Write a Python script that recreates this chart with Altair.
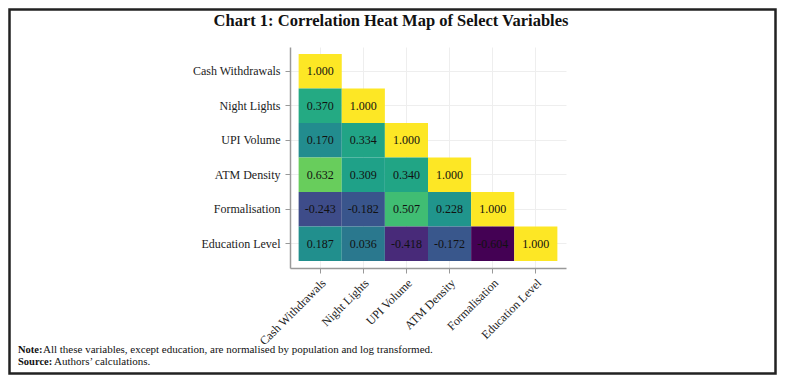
import altair as alt
import pandas as pd

variables = ["Cash Withdrawals", "Night Lights", "UPI Volume", "ATM Density", "Formalisation", "Education Level"]
corr_rows = [
    [1.000],
    [0.370, 1.000],
    [0.170, 0.334, 1.000],
    [0.632, 0.309, 0.340, 1.000],
    [-0.243, -0.182, 0.507, 0.228, 1.000],
    [0.187, 0.036, -0.418, -0.172, -0.604, 1.000],
]
title_text = "Chart 1: Correlation Heat Map of Select Variables"
note_label = "Note:"
note_text = "All these variables, except education, are normalised by population and log transformed."
source_label = "Source:"
source_text = "Authors\u2019 calculations."

records = []
for i, row in enumerate(corr_rows):
    for j, v in enumerate(row):
        records.append({"row": variables[i], "col": variables[j], "value": v})
df = pd.DataFrame(records)
df["label"] = df["value"].map(lambda v: f"{v:.3f}")

FONT = "Liberation Serif"
PL, PT = 282, 39
W, H = 276, 221
TOTW, TOTH = 769, 367

xs = alt.X("col:N", sort=variables, title=None,
           scale=alt.Scale(paddingInner=0, paddingOuter=0.2),
           axis=alt.Axis(labelAngle=-45, labelAlign="right", labelBaseline="top",
                         labelFont=FONT, labelFontSize=12, labelColor="#222",
                         domainColor="#999", domainWidth=1.5, tickColor="#999",
                         tickSize=5, labelPadding=4, bandPosition=0.5, zindex=0,
                         grid=True, gridColor="#eeeeee", gridWidth=1))
ys = alt.Y("row:N", sort=variables, title=None,
           scale=alt.Scale(paddingInner=0, paddingOuter=0.2),
           axis=alt.Axis(labelFont=FONT, labelFontSize=12, labelColor="#222",
                         domainColor="#999", domainWidth=1.5, tickColor="#999",
                         tickSize=5, labelPadding=5, bandPosition=0.5, zindex=0,
                         grid=True, gridColor="#eeeeee", gridWidth=1))

base = alt.Chart(df)
cells = base.mark_rect().encode(
    x=xs, y=ys,
    color=alt.Color("value:Q", scale=alt.Scale(scheme="viridis", domain=[-0.604, 1.0]), legend=None),
)
texts = base.mark_text(font=FONT, fontSize=12, color="#111").encode(
    x=xs, y=ys,
    text="label:N",
)

one = pd.DataFrame({"a": [0]})

def txt(s, x, y, size, weight="normal", align="left"):
    return alt.Chart(one).mark_text(text=s, font=FONT, fontSize=size, fontWeight=weight,
                                    align=align, baseline="middle", color="#111").encode(
        x=alt.value(x), y=alt.value(y))

title = txt(title_text, 391 - 8 - PL, 21 - 8 - PT, 16.5, "bold", "center")
n1 = txt(note_label, 18 - 8 - PL, 350 - 8 - PT, 10.5, "bold")
n2 = txt(note_text, 43 - 8 - PL, 350 - 8 - PT, 11)
s1 = txt(source_label, 18 - 8 - PL, 362 - 8 - PT, 10.5, "bold")
s2 = txt(source_text, 54 - 8 - PL, 362 - 8 - PT, 11)

frame = alt.Chart(one).mark_rect(fill=None, stroke="#222", strokeWidth=2.5).encode(
    x=alt.value(1.5 - PL), x2=alt.value(TOTW - 1.5 - PL),
    y=alt.value(1.5 - PT), y2=alt.value(TOTH - 1.5 - PT))

chart = alt.layer(cells, texts, title, n1, n2, s1, s2, frame).properties(
    width=W, height=H,
    padding={"left": PL, "top": PT, "right": TOTW - PL - W, "bottom": TOTH - PT - H},
    autosize=alt.AutoSizeParams(type="none"),
    background="white",
).configure_view(stroke=None)

chart.save("out.html", embed_options={"renderer": "svg", "actions": False})
